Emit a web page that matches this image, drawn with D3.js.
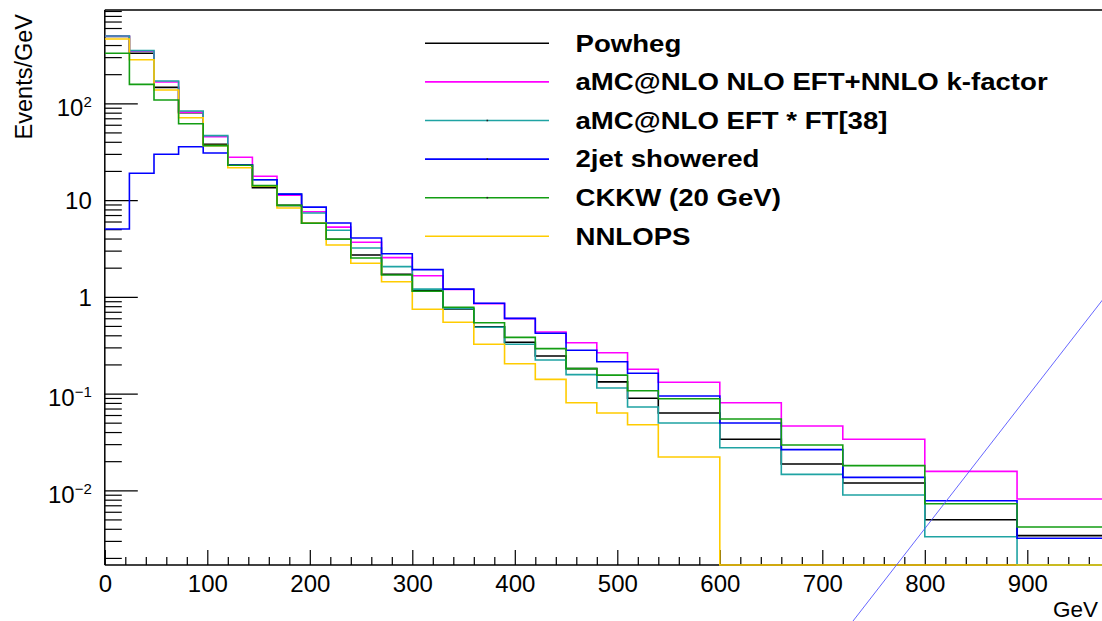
<!DOCTYPE html>
<html>
<head>
<meta charset="utf-8">
<script src="https://cdn.jsdelivr.net/npm/d3@7"></script>
<style>
  html, body { margin: 0; padding: 0; background: #fff; overflow: hidden; }
  svg { display: block; font-family: "Liberation Sans", Arial, Helvetica, sans-serif; }
</style>
</head>
<body>
<svg id="chart" width="1102" height="621"></svg>
<script>
// ---------------- data ----------------
const binEdges = [0,24,48,72,96,120,144,168,192,216,240,270,300,330,360,390,420,450,480,510,540,600,660,720,800,890,1000];

const powheg   = [490,329,146,80,37.7,22.9,13.4,8.8,5.75,3.93,2.70,1.71,1.15,0.748,0.491,0.339,0.244,0.181,0.132,0.0893,0.0629,0.0337,0.0187,0.0119,0.00497,0.0034];
const amcNNLO  = [494,345,166,80.7,45.2,27.7,17.6,11.2,7.58,5.25,3.66,2.54,1.65,1.19,0.85,0.595,0.433,0.335,0.264,0.178,0.131,0.0804,0.0462,0.0337,0.0157,0.00813];
const amcFT    = [496,350,170,83.2,46.3,23.2,16.2,11.5,7.35,4.87,3.19,2.05,1.20,0.76,0.484,0.323,0.222,0.157,0.114,0.0726,0.0496,0.0275,0.0146,0.00894,0.00331,0];
const twoJet   = [5.02,18.9,29.7,35.6,30.6,23.2,16.2,11.5,8.45,5.79,4.05,2.79,1.91,1.20,0.857,0.599,0.42,0.280,0.213,0.162,0.0943,0.0496,0.0263,0.0136,0.00781,0.00319];
const ckkw     = [329,157,108,61.5,36.5,22.9,14.1,8.8,5.75,3.93,2.52,1.68,1.14,0.779,0.540,0.381,0.291,0.181,0.155,0.107,0.0885,0.0546,0.0294,0.0180,0.00727,0.00418];
const nnlops   = [462,282,137,71,36.5,21.6,13.9,8.28,5.75,3.43,2.22,1.43,0.743,0.545,0.323,0.203,0.140,0.0804,0.0629,0.0476,0.0221,0,0,0,0,0];

const seriesNames  = ["Powheg","aMC@NLO NLO EFT+NNLO k-factor","aMC@NLO EFT * FT[38]","2jet showered","CKKW (20 GeV)","NNLOPS"];
const seriesColors = ["#000000","#ff00ff","#1fa3a3","#0000ff","#139d13","#ffcc00"];
const seriesData   = [powheg, amcNNLO, amcFT, twoJet, ckkw, nnlops];
const drawOrder    = [0,1,2,3,5,4];
const legendDot    = [false,false,true,true,true,false];

const xMajorTicks = [0,100,200,300,400,500,600,700,800,900,1000];
const yMajorTicks = [0.01,0.1,1,10,100];
const yTickLabels = [["10","\u22122"],["10","\u22121"],["1",null],["10",null],["10","2"]];

const diagLine = [[700,1.74e-4],[1000,2.14]];

// ---------------- layout ----------------
const svg = d3.select("#chart");
const pLeft = 104.8, pRight = 1129.8, pTop = 10, pBottom = 565;
const x = d3.scaleLinear().domain([0,1000]).range([pLeft,pRight]);
const yMin = 0.00169, yMax = 921;
const y = d3.scaleLog().domain([yMin,yMax]).range([pBottom,pTop]);

svg.append("rect").attr("width",1102).attr("height",621).attr("fill","#fff");

svg.append("defs").append("clipPath").attr("id","plotclip")
  .append("rect").attr("x",pLeft).attr("y",pTop-2).attr("width",pRight-pLeft).attr("height",pBottom-pTop+4);

// ---------------- axes ----------------
const xMaj = svg.append("g").attr("transform",`translate(0,${pBottom})`)
  .call(d3.axisBottom(x).tickValues(xMajorTicks).tickSize(-15).tickPadding(9.5)
    .tickFormat(d => d < 1000 ? d3.format("d")(d) : ""));
const xMinorVals = d3.range(0,1001,20).filter(v => v % 100 !== 0);
const xMinG = svg.append("g").attr("transform",`translate(0,${pBottom})`)
  .call(d3.axisBottom(x).tickValues(xMinorVals).tickSize(-8).tickFormat(""));
const yMaj = svg.append("g").attr("transform",`translate(${pLeft},0)`)
  .call(d3.axisLeft(y).tickValues(yMajorTicks).tickSize(-33).tickPadding(13));
const yMinorVals = [];
for (let d=-3; d<=2; d++) for (let m=2; m<=9; m++) { const v = m*Math.pow(10,d); if (v>yMin && v<yMax) yMinorVals.push(v); }
const yMinG = svg.append("g").attr("transform",`translate(${pLeft},0)`)
  .call(d3.axisLeft(y).tickValues(yMinorVals).tickSize(-17).tickFormat(""));

[xMaj,xMinG,yMaj,yMinG].forEach(g => {
  g.select(".domain").remove();
  g.selectAll(".tick line").attr("stroke","#000").attr("stroke-width",1.2);
});
xMaj.selectAll("text").attr("font-size",24).attr("fill","#000")
  .attr("font-family","'Liberation Sans', Arial, sans-serif");

yMaj.selectAll(".tick text").each(function(d){
  const t = d3.select(this);
  const lab = yTickLabels[yMajorTicks.indexOf(d)];
  t.text(null).attr("font-size",24).attr("fill","#000")
   .attr("font-family","'Liberation Sans', Arial, sans-serif")
   .attr("dy", lab[1] ? "12px" : "8.3px");
  t.append("tspan").text(lab[0]);
  if (lab[1]) t.append("tspan").attr("font-size",15).attr("dy","-9px").text(lab[1]);
});

// frame lines
svg.append("line").attr("x1",pLeft).attr("x2",pRight).attr("y1",pTop).attr("y2",pTop).attr("stroke","#000").attr("stroke-width",1.5);
svg.append("line").attr("x1",pLeft).attr("x2",pLeft).attr("y1",pTop).attr("y2",pBottom).attr("stroke","#000").attr("stroke-width",1.5);
svg.append("line").attr("x1",pLeft).attr("x2",pRight).attr("y1",pBottom).attr("y2",pBottom).attr("stroke","#000").attr("stroke-width",1.5);
svg.append("line").attr("x1",pRight).attr("x2",pRight).attr("y1",pTop).attr("y2",pBottom).attr("stroke","#000").attr("stroke-width",1.5);

// axis titles
svg.append("text").attr("transform","translate(32,14) rotate(-90)")
  .attr("text-anchor","end").attr("font-size",23.5).attr("fill","#000").text("Events/GeV");
svg.append("text").attr("x",1098).attr("y",617).attr("text-anchor","end")
  .attr("font-size",22.5).attr("fill","#000").text("GeV");

// ---------------- histograms ----------------
const stepLine = d3.line()
  .x(d => x(d[0]))
  .y(d => y(Math.max(d[1], yMin)))
  .curve(d3.curveStepAfter);

const hg = svg.append("g").attr("clip-path","url(#plotclip)");
drawOrder.forEach(si => {
  const vals = seriesData[si];
  const pts = vals.map((v,i) => [binEdges[i], v]);
  pts.push([binEdges[vals.length], vals[vals.length-1]]);
  hg.append("path").attr("d", stepLine(pts))
    .attr("fill","none").attr("stroke",seriesColors[si]).attr("stroke-width",1.6);
});

// diagonal line
svg.append("path")
  .attr("d", d3.line().x(d=>x(d[0])).y(d=>y(d[1]))(diagLine))
  .attr("fill","none").attr("stroke","#5555ff").attr("stroke-width",0.9);

// ---------------- legend ----------------
const legY0 = 43.3, legDy = 38.6;
const leg = svg.append("g");
seriesNames.forEach((name,i) => {
  const yy = legY0 + i*legDy;
  leg.append("line").attr("x1",425).attr("x2",549).attr("y1",yy).attr("y2",yy)
    .attr("stroke",seriesColors[i]).attr("stroke-width",1.6);
  if (legendDot[i]) leg.append("rect").attr("x",486.5).attr("y",yy-0.8).attr("width",1.6).attr("height",1.6).attr("fill","#222");
  leg.append("text").attr("transform",`translate(575.5,${yy+8.3}) scale(1.2,1)`)
    .attr("font-size",23).attr("font-weight","bold").attr("fill","#000").text(name);
});
</script>
</body>
</html>
